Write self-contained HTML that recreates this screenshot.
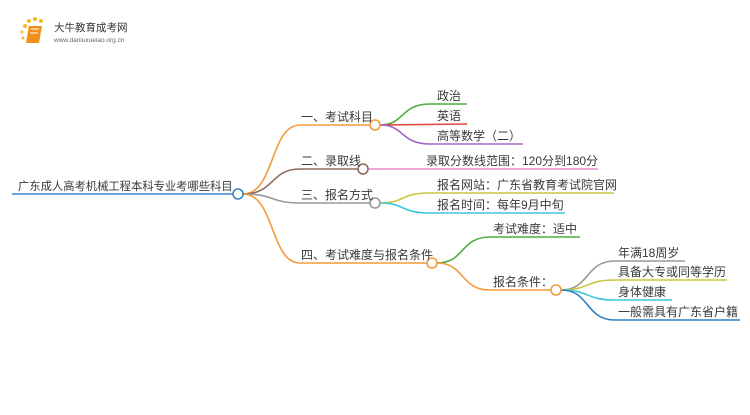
<!DOCTYPE html>
<html><head><meta charset="utf-8"><style>
body{margin:0;background:#fff;width:750px;height:410px;overflow:hidden}
svg text{font-family:"Liberation Sans","Noto Sans CJK SC",sans-serif;font-size:12px;fill:#3a3a3a}
</style></head><body>
<svg width="750" height="410" viewBox="0 0 750 410" xmlns="http://www.w3.org/2000/svg">
<g>
<circle cx="25" cy="26" r="2" fill="#f5b922"/><circle cx="29" cy="21" r="2" fill="#f5b922"/><circle cx="35" cy="19" r="2" fill="#f5b922"/><circle cx="41" cy="21" r="2" fill="#f5b922"/><circle cx="22" cy="32" r="1.5" fill="#f5b922"/><circle cx="23" cy="38" r="1.5" fill="#f5b922"/>
<path d="M29 26 L42 26 L39 43 L26 43 Z" fill="#f0901a"/>
<path d="M31 29 L39 29 M30 33 L38 33" stroke="#fff" stroke-width="1"/>
<text x="54" y="31" style="font-size:10.5px;fill:#333">大牛教育成考网</text>
<text x="54" y="42" style="font-size:6.5px;fill:#666">www.daniuxueiao.org.cn</text>
</g>
<g fill="none" stroke-width="1.6">
<line x1="12" y1="194" x2="233" y2="194" stroke="#3a86c8"/>
<path d="M243 194 C275 194 270 125 300 125 L370 125" stroke="#f49a3c"/>
<path d="M243 194 C275 194 270 169 300 169 L358 169" stroke="#8d6a5a"/>
<path d="M243 194 C275 194 270 203 300 203 L370 203" stroke="#999"/>
<path d="M243 194 C275 194 270 263 300 263 L427 263" stroke="#f49a3c"/>
<path d="M380 125 C405 125 400 104 430 104 L467 104" stroke="#4cae3e"/>
<path d="M380 125 L467 124" stroke="#e0463c"/>
<path d="M380 125 C405 125 400 144 430 144 L523 144" stroke="#a066c8"/>
<path d="M368 169 L598 169" stroke="#e98ac8"/>
<path d="M380 203 C405 203 400 193 430 193 L614 193" stroke="#c8c83c"/>
<path d="M380 203 C405 203 400 213 430 213 L565 213" stroke="#3cc8dc"/>
<path d="M437 263 C465 263 460 237 490 237 L580 237" stroke="#4cae3e"/>
<path d="M437 263 C465 263 460 290 490 290 L551 290" stroke="#f49a3c"/>
<path d="M561 290 C590 290 585 261 615 261 L685 261" stroke="#999"/>
<path d="M561 290 C590 290 585 280 615 280 L727 280" stroke="#c8c83c"/>
<path d="M561 290 C590 290 585 300 615 300 L672 300" stroke="#3cc8dc"/>
<path d="M561 290 C590 290 585 320 615 320 L740 320" stroke="#2f7fc1"/>
</g>
<g fill="#fff" stroke-width="1.6">
<circle cx="238" cy="194" r="5" stroke="#3a86c8"/>
<circle cx="375" cy="125" r="5" stroke="#f49a3c"/>
<circle cx="363" cy="169" r="5" stroke="#8d6a5a"/>
<circle cx="375" cy="203" r="5" stroke="#999"/>
<circle cx="432" cy="263" r="5" stroke="#f49a3c"/>
<circle cx="556" cy="290" r="5" stroke="#f49a3c"/>
</g>
<text x="18" y="190" style="font-size:11.3px">广东成人高考机械工程本科专业考哪些科目</text>
<text x="301" y="121">一、考试科目</text>
<text x="301" y="165">二、录取线</text>
<text x="301" y="199">三、报名方式</text>
<text x="301" y="259">四、考试难度与报名条件</text>
<text x="437" y="100">政治</text>
<text x="437" y="120">英语</text>
<text x="437" y="140">高等数学（二）</text>
<text x="426" y="165">录取分数线范围：120分到180分</text>
<text x="437" y="189">报名网站：广东省教育考试院官网</text>
<text x="437" y="209">报名时间：每年9月中旬</text>
<text x="493" y="233">考试难度：适中</text>
<text x="493" y="286">报名条件：</text>
<text x="618" y="257">年满18周岁</text>
<text x="618" y="276">具备大专或同等学历</text>
<text x="618" y="296">身体健康</text>
<text x="618" y="316">一般需具有广东省户籍</text>
</svg>
</body></html>
